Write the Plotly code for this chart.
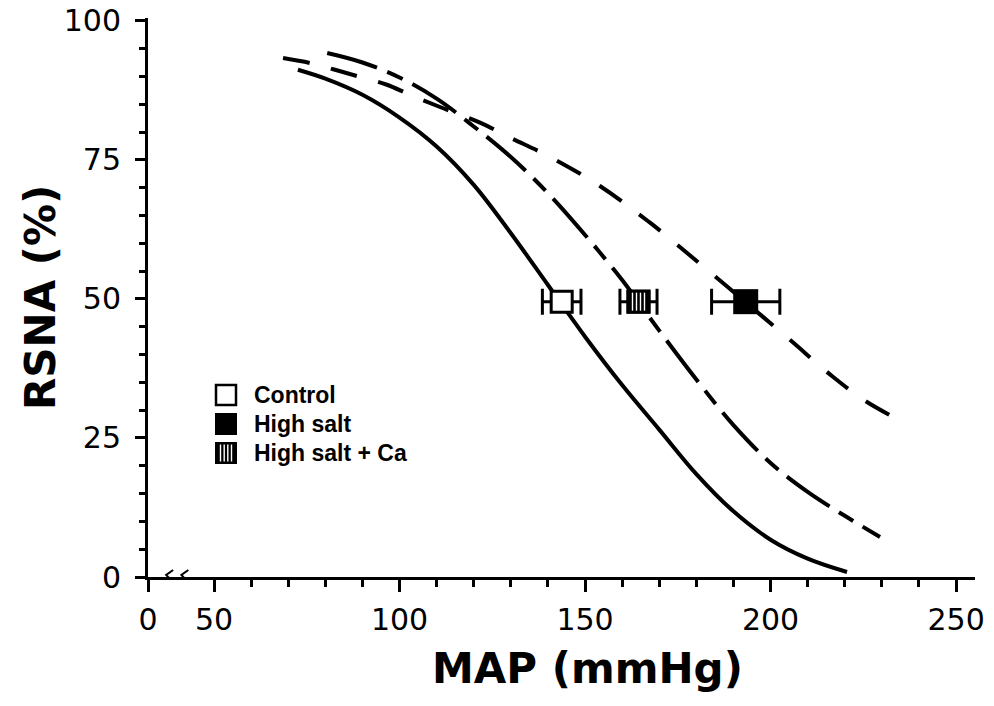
import plotly.graph_objects as go

# ---------------- data ----------------
control_map = [72.6, 80.0, 90.0, 100.0, 110.0, 120.0, 130.0, 140.0, 150.0, 160.0, 170.0, 180.0, 190.0, 200.0, 210.0, 220.6]
control_rsna = [91.2, 89.6, 86.7, 82.6, 77.4, 70.5, 61.8, 52.5, 43.2, 34.5, 26.5, 18.5, 11.8, 6.7, 3.3, 0.9]

salt_map = [68.6, 75.9, 82.6, 89.4, 96.6, 102.8, 110.9, 121.7, 129.8, 140.6, 154.0, 167.5, 181.0, 193.1, 205.3, 216.8, 225.2, 233.6]
salt_rsna = [93.3, 92.4, 91.2, 89.9, 88.5, 86.7, 84.5, 81.7, 79.0, 75.5, 70.3, 63.7, 56.3, 49.5, 42.6, 36.0, 31.8, 28.6]

ca_map = [80.5, 90.0, 100.0, 110.0, 120.0, 130.0, 140.0, 150.0, 160.0, 164.3, 170.0, 180.0, 190.0, 200.0, 210.0, 220.0, 229.5]
ca_rsna = [94.2, 92.5, 89.8, 86.0, 81.0, 75.5, 69.0, 61.5, 53.4, 49.5, 44.3, 35.5, 27.3, 20.5, 15.3, 11.0, 7.2]

group_names = ["Control", "High salt", "High salt + Ca"]
point_map = [143.7, 193.3, 164.4]
point_rsna = [49.5, 49.5, 49.5]
point_err = [5.2, 9.2, 5.0]

x_tick_vals = [32.2, 50, 100, 150, 200, 250]
x_tick_text = ["0", "50", "100", "150", "200", "250"]
x_minor_vals = [60, 70, 80, 90, 110, 120, 130, 140, 160, 170, 180, 190, 210, 220, 230, 240]
y_tick_vals = [0, 25, 50, 75, 100]
break_marks = [37.9, 42.0]

# ---------------- figure ----------------
fig = go.Figure()

fig.add_trace(go.Scatter(x=control_map, y=control_rsna, mode="lines",
                         line=dict(color="black", width=4, shape="spline", smoothing=1.0),
                         showlegend=False, hoverinfo="skip"))
fig.add_trace(go.Scatter(x=salt_map, y=salt_rsna, mode="lines",
                         line=dict(color="black", width=4, shape="spline", smoothing=1.0, dash="27px,22px"),
                         showlegend=False, hoverinfo="skip"))
fig.add_trace(go.Scatter(x=ca_map, y=ca_rsna, mode="lines",
                         line=dict(color="black", width=4, shape="spline", smoothing=1.0, dash="52px,11px,17px,11px"),
                         showlegend=False, hoverinfo="skip"))

# points with horizontal error bars
fills = ["white", "black", "black"]
sizes = [21, 25, 24]
lw = [3, 0, 0]
for i in range(3):
    fig.add_trace(go.Scatter(
        x=[point_map[i]], y=[point_rsna[i]], mode="markers",
        marker=dict(symbol="square", size=sizes[i], color=fills[i],
                    line=dict(color="black", width=lw[i])),
        error_x=dict(type="data", array=[point_err[i]], color="black", thickness=3, width=13),
        showlegend=False, hoverinfo="skip"))

shapes = []


def striped_square(xref, yref, xa, ya, half, stripes, stripe_len):
    out = [dict(type="rect", xref=xref, yref=yref, xsizemode="pixel", ysizemode="pixel",
                xanchor=xa, yanchor=ya, x0=-half, x1=half, y0=-half, y1=half,
                fillcolor="black", line=dict(width=0))]
    for sx in stripes:
        out.append(dict(type="line", xref=xref, yref=yref, xsizemode="pixel", ysizemode="pixel",
                        xanchor=xa, yanchor=ya, x0=sx, x1=sx, y0=-stripe_len, y1=stripe_len,
                        line=dict(color="white", width=1.4)))
    return out


# striped marker for High salt + Ca, anchored at its data point
shapes += striped_square("x", "y", point_map[2], point_rsna[2], 12, [-6, -2, 2, 6], 9)

annotations = []
# legend (manual)
legend_y = [0.3256, 0.2737, 0.2218]
leg_x = (226 - 148) / 827
shapes.append(dict(type="rect", xref="paper", yref="paper", xsizemode="pixel", ysizemode="pixel",
                   xanchor=leg_x, yanchor=legend_y[0], x0=-10, x1=10, y0=-10, y1=10,
                   fillcolor="white", line=dict(color="black", width=2.5)))
shapes.append(dict(type="rect", xref="paper", yref="paper", xsizemode="pixel", ysizemode="pixel",
                   xanchor=leg_x, yanchor=legend_y[1], x0=-11, x1=11, y0=-11, y1=11,
                   fillcolor="black", line=dict(width=0)))
shapes += striped_square("paper", "paper", leg_x, legend_y[2], 11, [-5.5, -1.8, 1.8, 5.5], 8.5)

for name, yy in zip(group_names, legend_y):
    annotations.append(dict(x=(252 - 148) / 827, y=yy, xref="paper", yref="paper",
                            text="<b>" + name + "</b>", showarrow=False,
                            font=dict(family="Liberation Sans", size=23, color="black"),
                            xanchor="left", yanchor="middle"))

# axis titles
annotations.append(dict(x=(587 - 148) / 827, y=(577 - 668) / 559, xref="paper", yref="paper",
                        text="<b>MAP (mmHg)</b>", showarrow=False,
                        font=dict(family="DejaVu Sans", size=42, color="black"),
                        xanchor="center", yanchor="middle"))
annotations.append(dict(x=(40 - 148) / 827, y=(577 - 297) / 559, xref="paper", yref="paper",
                        text="<b>RSNA (%)</b>", showarrow=False, textangle=-90,
                        font=dict(family="DejaVu Sans", size=42, color="black"),
                        xanchor="center", yanchor="middle"))

# axis-break squiggles
for bx in break_marks:
    shapes.append(dict(type="path", xref="x", yref="y", xsizemode="pixel", ysizemode="pixel",
                       xanchor=bx, yanchor=0,
                       path="M -5,-6 L 1,-2 L -3,2 L 4,7",
                       line=dict(color="black", width=2)))

fig.update_layout(
    width=994, height=706, autosize=False,
    margin=dict(l=148, r=19, t=18, b=129),
    paper_bgcolor="white", plot_bgcolor="white",
    showlegend=False,
    annotations=annotations, shapes=shapes,
    xaxis=dict(range=[32.2, 255.1], showgrid=False, zeroline=False, automargin=False,
               showline=True, linecolor="black", linewidth=3,
               ticks="outside", ticklen=12, tickwidth=2.5, tickcolor="black",
               tickmode="array", tickvals=x_tick_vals, ticktext=x_tick_text,
               tickfont=dict(family="DejaVu Sans", size=30, color="black"),
               ticklabelstandoff=2, ticklabeloverflow="allow",
               minor=dict(tickmode="array", tickvals=x_minor_vals, ticks="outside",
                          ticklen=7, tickwidth=2.5, tickcolor="black", showgrid=False)),
    yaxis=dict(range=[0, 100.5], showgrid=False, zeroline=False, automargin=False,
               showline=True, linecolor="black", linewidth=3,
               ticks="outside", ticklen=10, tickwidth=2.5, tickcolor="black",
               tickmode="array", tickvals=y_tick_vals,
               tickfont=dict(family="DejaVu Sans", size=30, color="black"),
               ticklabelstandoff=8, ticklabeloverflow="allow",
               minor=dict(dtick=5, tick0=0, ticks="outside", ticklen=6, tickwidth=2.5,
                          tickcolor="black", showgrid=False)),
)

# remove the page's default 8px body margin so the figure sits at the window origin
fig.write_html("out.html", config={"displayModeBar": False},
               post_script="document.body.style.margin='0px';")
